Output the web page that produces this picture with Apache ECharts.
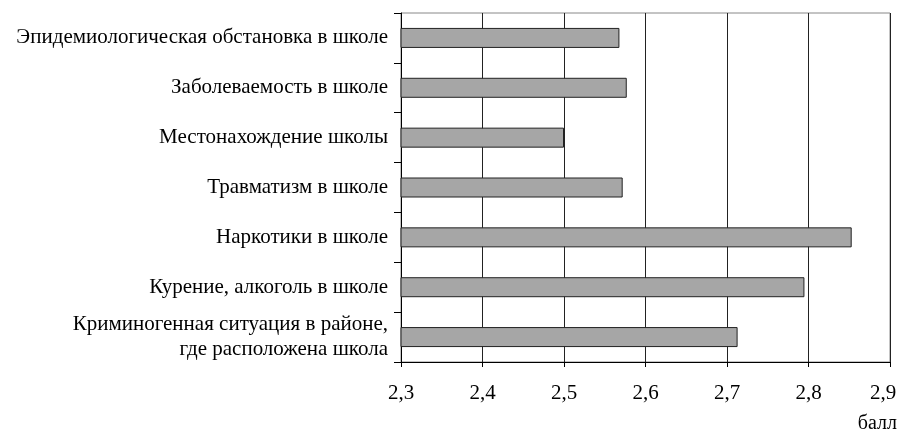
<!DOCTYPE html>
<html>
<head>
<meta charset="utf-8">
<script src="https://cdn.jsdelivr.net/npm/echarts@6/dist/echarts.min.js"></script>
<style>
html,body{margin:0;padding:0;background:#fff;overflow:hidden;}
#c{width:898px;height:431px;}
</style>
</head>
<body>
<div id="c"></div>
<script>
const categories = [
  'Эпидемиологическая обстановка в школе',
  'Заболеваемость в школе',
  'Местонахождение школы',
  'Травматизм в школе',
  'Наркотики в школе',
  'Курение, алкоголь в школе',
  'Криминогенная ситуация в районе,\nгде расположена школа'
];
const values = [2.568, 2.577, 2.5, 2.572, 2.853, 2.795, 2.713];
const xTicks = { min: 2.3, max: 2.9, step: 0.1 };
const unitLabel = 'балл';

const FONT = 'Liberation Serif';
const chart = echarts.init(document.getElementById('c'), null, {renderer: 'canvas'});
chart.setOption({
  animation: false,
  backgroundColor: '#fff',
  grid: {left: 401, right: 8, top: 13, bottom: 69, outerBoundsMode: 'none', containLabel: false,
         show: true, borderColor: '#888', borderWidth: 1, backgroundColor: 'transparent'},
  xAxis: {
    type: 'value',
    min: xTicks.min, max: xTicks.max, interval: xTicks.step,
    axisLine: {show: true, lineStyle: {color: '#000', width: 1}},
    axisTick: {show: true, length: 5, lineStyle: {color: '#000'}},
    splitLine: {show: true, lineStyle: {color: '#222', width: 1}},
    axisLabel: {
      color: '#000', fontFamily: FONT, fontSize: 21, margin: 21,
      formatter: v => {
        const s = v.toFixed(1).replace('.', ',');
        return Math.abs(v - xTicks.max) < 1e-9 ? '{last|' + s + '}' : s;
      },
      rich: {last: {color: '#000', fontFamily: FONT, fontSize: 21, padding: [0, 14, 0, 0]}}
    }
  },
  yAxis: {
    type: 'category',
    inverse: true,
    data: categories,
    axisLine: {show: true, lineStyle: {color: '#000', width: 1}},
    axisTick: {show: true, length: 7, alignWithLabel: false, lineStyle: {color: '#000'}},
    splitLine: {show: false},
    axisLabel: {color: '#000', fontFamily: FONT, fontSize: 21, lineHeight: 25, margin: 13, align: 'right'}
  },
  graphic: [{
    type: 'text', right: 1, top: 414,
    style: {text: unitLabel, fill: '#000', font: '20px "Liberation Serif"'}
  }],
  series: [{
    type: 'bar',
    data: values,
    barWidth: 20,
    itemStyle: {color: '#a6a6a6', borderColor: '#222', borderWidth: 1}
  }]
});
</script>
</body>
</html>
